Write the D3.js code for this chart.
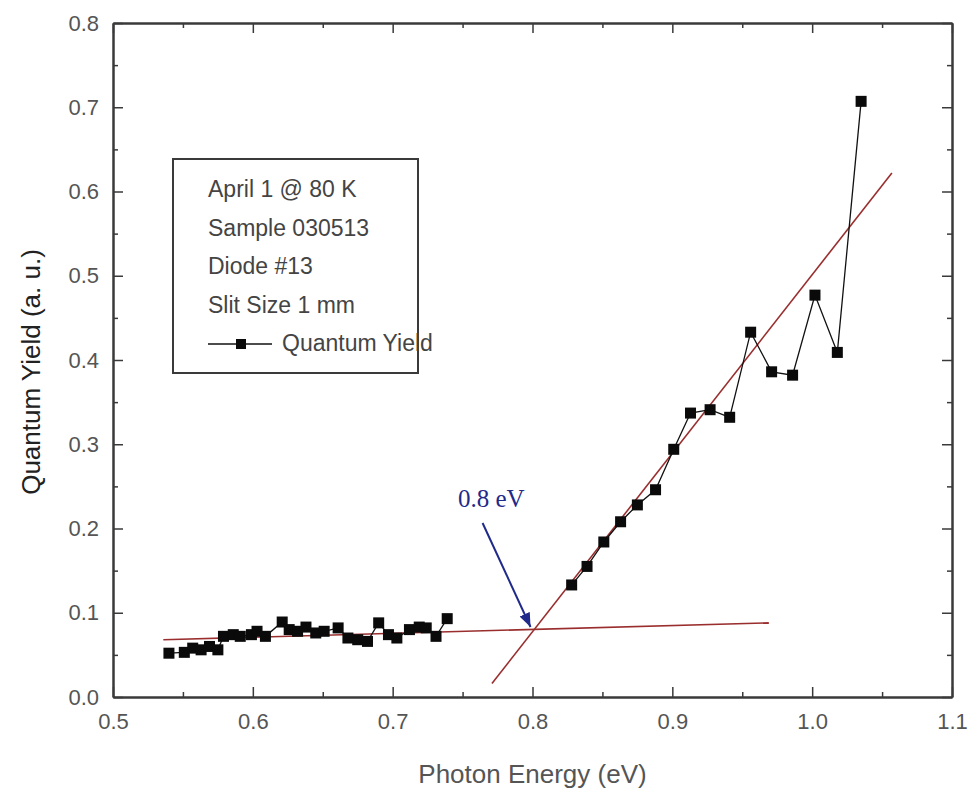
<!DOCTYPE html>
<html>
<head>
<meta charset="utf-8">
<script src="https://cdn.jsdelivr.net/npm/d3@7"></script>
<style>
  body { margin: 0; background: #fff; }
  svg text { font-family: Arial, "Liberation Sans", sans-serif; }
</style>
</head>
<body>
<div id="chart"></div>
<script>
// data
const lowEnergy = [0.540, 0.551, 0.557, 0.563, 0.569, 0.575, 0.579, 0.586, 0.591, 0.599,
                   0.603, 0.609, 0.621, 0.626, 0.632, 0.638, 0.645, 0.651, 0.661, 0.668,
                   0.675, 0.682, 0.690, 0.697, 0.703, 0.712, 0.719, 0.724, 0.731, 0.739];
const lowYield  = [0.052, 0.053, 0.058, 0.056, 0.060, 0.056, 0.072, 0.074, 0.072, 0.074,
                   0.078, 0.072, 0.089, 0.080, 0.078, 0.083, 0.076, 0.078, 0.082, 0.070,
                   0.068, 0.066, 0.088, 0.074, 0.070, 0.080, 0.083, 0.082, 0.072, 0.093];
const highEnergy = [0.828, 0.839, 0.851, 0.863, 0.875, 0.888, 0.901, 0.913, 0.927, 0.941,
                    0.956, 0.971, 0.986, 1.002, 1.018, 1.035];
const highYield  = [0.133, 0.155, 0.184, 0.208, 0.228, 0.246, 0.294, 0.337, 0.341, 0.332,
                    0.433, 0.386, 0.382, 0.477, 0.409, 0.707];

// linear fits (end points)
const fitLowX = [0.536, 0.969], fitLowY = [0.068, 0.088];
const fitHighX = [0.771, 1.057], fitHighY = [0.016, 0.622];

const xTicks = [0.5, 0.6, 0.7, 0.8, 0.9, 1.0, 1.1];
const yTicks = [0.0, 0.1, 0.2, 0.3, 0.4, 0.5, 0.6, 0.7, 0.8];
const legendLines = ["April 1 @ 80 K", "Sample 030513", "Diode #13", "Slit Size 1 mm"];
const seriesName = "Quantum Yield";

const W = 970, H = 792;
const m = { left: 113, right: 18, top: 23, bottom: 95 };

const svg = d3.select('#chart').append('svg')
  .attr('width', W).attr('height', H);

const x = d3.scaleLinear().domain([0.5, 1.1]).range([m.left, W - m.right]);
const y = d3.scaleLinear().domain([0, 0.8]).range([H - m.bottom, m.top]);

const frameColor = '#3a3a3a';
const minorX = d3.range(0.55, 1.1, 0.1);
const minorY = d3.range(0.05, 0.8, 0.1);

// bottom
svg.append('g').attr('transform', `translate(0,${y(0)})`)
  .call(d3.axisBottom(x).tickValues(xTicks).tickFormat(d3.format('.1f')).tickSizeInner(-10).tickSizeOuter(0).tickPadding(16));
svg.append('g').attr('transform', `translate(0,${y(0)})`)
  .call(d3.axisBottom(x).tickValues(minorX).tickFormat('').tickSizeInner(-5).tickSizeOuter(0));
// top
svg.append('g').attr('transform', `translate(0,${y(0.8)})`)
  .call(d3.axisTop(x).tickValues(xTicks).tickFormat('').tickSizeInner(-10).tickSizeOuter(0));
svg.append('g').attr('transform', `translate(0,${y(0.8)})`)
  .call(d3.axisTop(x).tickValues(minorX).tickFormat('').tickSizeInner(-5).tickSizeOuter(0));
// left
svg.append('g').attr('transform', `translate(${x(0.5)},0)`)
  .call(d3.axisLeft(y).tickValues(yTicks).tickFormat(d3.format('.1f')).tickSizeInner(-10).tickSizeOuter(0).tickPadding(14));
svg.append('g').attr('transform', `translate(${x(0.5)},0)`)
  .call(d3.axisLeft(y).tickValues(minorY).tickFormat('').tickSizeInner(-5).tickSizeOuter(0));
// right
svg.append('g').attr('transform', `translate(${x(1.1)},0)`)
  .call(d3.axisRight(y).tickValues(yTicks).tickFormat('').tickSizeInner(-10).tickSizeOuter(0));
svg.append('g').attr('transform', `translate(${x(1.1)},0)`)
  .call(d3.axisRight(y).tickValues(minorY).tickFormat('').tickSizeInner(-5).tickSizeOuter(0));

svg.selectAll('.domain').attr('stroke', frameColor).attr('stroke-width', 2);
svg.selectAll('.tick line').attr('stroke', frameColor).attr('stroke-width', 1.5);
svg.selectAll('.tick text').attr('fill', '#555')
  .style('font-size', '22px').style('font-family', 'Arial, "Liberation Sans", sans-serif');

// axis titles
svg.append('text')
  .attr('x', (x(0.5) + x(1.1)) / 2).attr('y', 783)
  .attr('text-anchor', 'middle').attr('font-size', 26).attr('fill', '#555')
  .text('Photon Energy (eV)');
svg.append('text')
  .attr('transform', `translate(40,372) rotate(-90)`)
  .attr('text-anchor', 'middle').attr('font-size', 26).attr('fill', '#222')
  .text('Quantum Yield (a. u.)');

// fit lines
const fitColor = '#9a2e2e';
const fits = [
  d3.zip(fitLowX, fitLowY),
  d3.zip(fitHighX, fitHighY)
];
const line = d3.line().x(d => x(d[0])).y(d => y(d[1]));
svg.selectAll('.fit').data(fits).enter().append('path')
  .attr('class', 'fit')
  .attr('d', line)
  .attr('fill', 'none').attr('stroke', fitColor).attr('stroke-width', 1.6);

// data line + squares
const segments = [d3.zip(lowEnergy, lowYield), d3.zip(highEnergy, highYield)];
svg.selectAll('.series').data(segments).enter().append('path')
  .attr('class', 'series')
  .attr('d', line)
  .attr('fill', 'none').attr('stroke', '#111').attr('stroke-width', 1.3);

const sq = 11;
const allPoints = segments[0].concat(segments[1]);
svg.selectAll('.pt').data(allPoints).enter().append('rect')
  .attr('class', 'pt')
  .attr('x', d => x(d[0]) - sq / 2).attr('y', d => y(d[1]) - sq / 2)
  .attr('width', sq).attr('height', sq)
  .attr('fill', '#0a0a0a');

// annotation: 0.8 eV with arrow
const annoColor = '#1f2a8a';
svg.append('defs').append('marker')
  .attr('id', 'arrow').attr('viewBox', '0 0 10 10')
  .attr('refX', 10).attr('refY', 5)
  .attr('markerWidth', 7).attr('markerHeight', 7)
  .attr('orient', 'auto')
  .append('path').attr('d', 'M0,1 L10,5 L0,9 Z').attr('fill', annoColor);
svg.append('line')
  .attr('x1', x(0.7643)).attr('y1', y(0.2065))
  .attr('x2', x(0.7986)).attr('y2', y(0.0831))
  .attr('stroke', annoColor).attr('stroke-width', 2)
  .attr('marker-end', 'url(#arrow)');
svg.append('text')
  .attr('x', x(0.7705)).attr('y', y(0.2255))
  .attr('text-anchor', 'middle')
  .style('font-family', '"Liberation Serif", "Times New Roman", serif')
  .style('font-size', '25px').attr('fill', annoColor)
  .text('0.8 eV');

// legend box
const lg = svg.append('g');
lg.append('rect')
  .attr('x', 173).attr('y', 159).attr('width', 245).attr('height', 214)
  .attr('fill', '#fff').attr('stroke', frameColor).attr('stroke-width', 2);
lg.selectAll('.lt').data(legendLines).enter().append('text')
  .attr('class', 'lt')
  .attr('x', 208).attr('y', (d, i) => 197 + i * 38.5)
  .attr('font-size', 23).attr('fill', '#444')
  .text(d => d);
const ly = 197 + 4 * 38.5 - 7;
lg.append('line').attr('x1', 208).attr('x2', 272).attr('y1', ly).attr('y2', ly)
  .attr('stroke', '#111').attr('stroke-width', 1.5);
lg.append('rect').attr('x', 236).attr('y', ly - 5).attr('width', 10).attr('height', 10).attr('fill', '#0a0a0a');
lg.append('text').attr('x', 282).attr('y', 197 + 4 * 38.5)
  .attr('font-size', 23).attr('fill', '#444').text(seriesName);
</script>
</body>
</html>
